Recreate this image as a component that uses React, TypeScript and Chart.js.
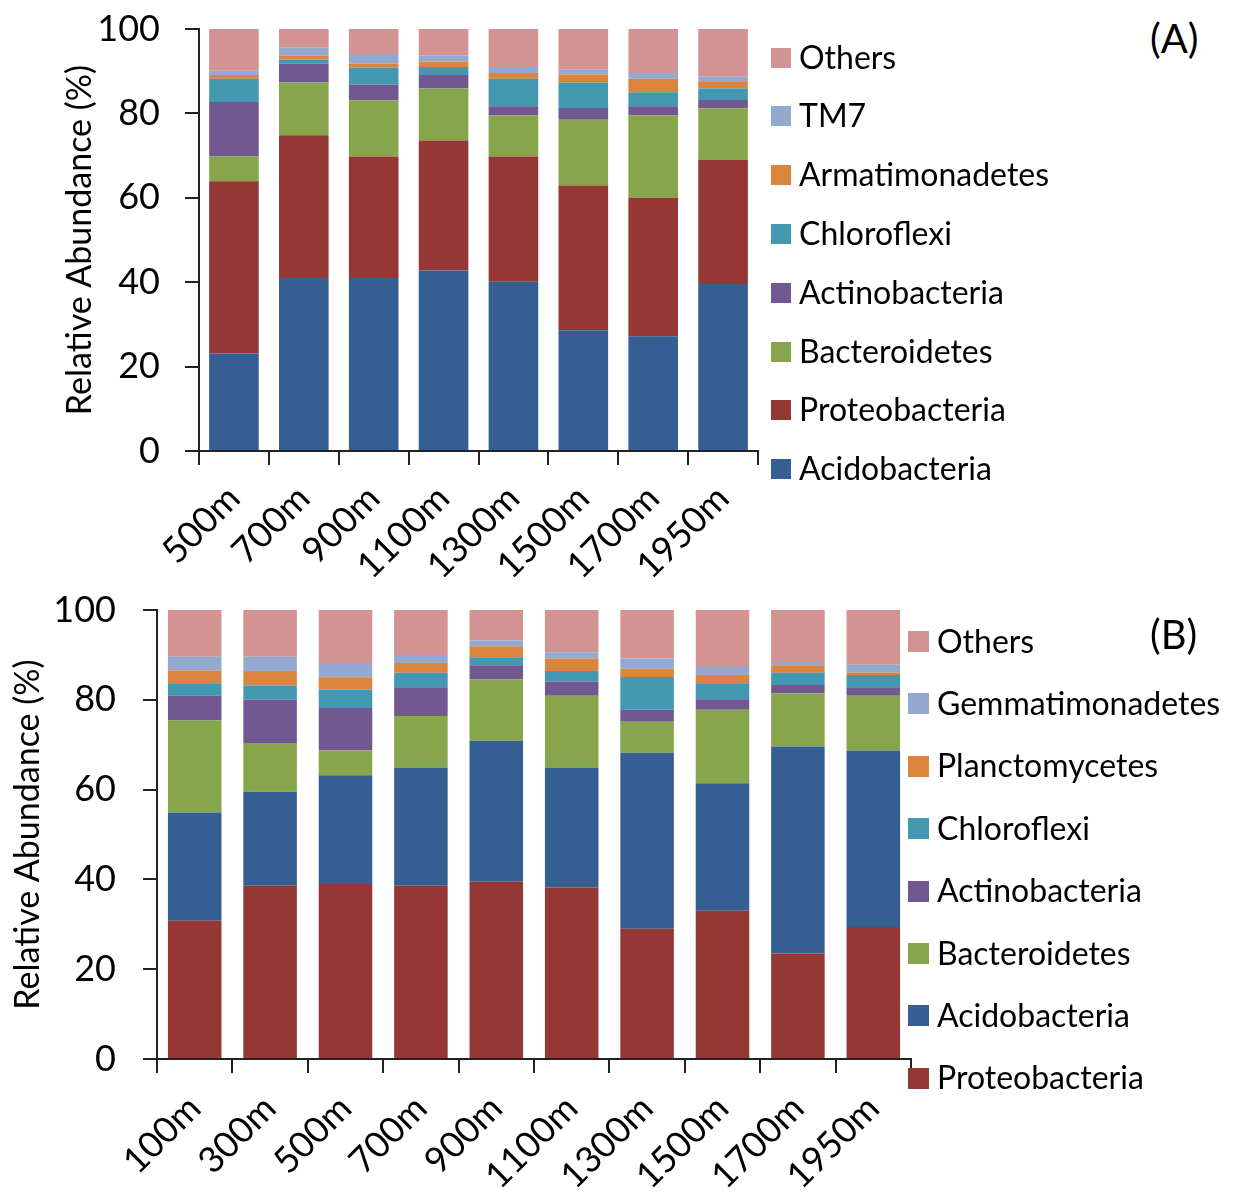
import React, { useEffect, useRef } from 'react';
import { Chart, registerables } from 'chart.js';

Chart.register(...registerables);
Chart.defaults.font.family = 'Lato, "Open Sans", sans-serif';

// ---------- Panel A data ----------
const sitesA = ['500m', '700m', '900m', '1100m', '1300m', '1500m', '1700m', '1950m'];
const acidobacteriaA = [23.1, 41.0, 41.0, 42.8, 40.1, 28.6, 27.2, 39.6];
const proteobacteriaA = [40.8, 33.8, 28.8, 30.8, 29.7, 34.3, 32.8, 29.4];
const bacteroidetesA = [5.9, 12.5, 13.3, 12.3, 9.7, 15.6, 19.5, 12.2];
const actinobacteriaA = [12.9, 4.5, 3.7, 3.2, 2.2, 2.8, 2.2, 2.0];
const chloroflexiA = [5.5, 1.0, 4.0, 1.9, 6.5, 6.0, 3.3, 2.7];
const armatimonadetesA = [0.9, 0.9, 1.0, 1.3, 1.4, 1.9, 3.2, 1.7];
const tm7A = [1.0, 1.9, 2.3, 1.4, 1.4, 1.2, 1.4, 1.1];
const othersA = [9.9, 4.4, 5.9, 6.3, 9.0, 9.6, 10.4, 11.3];

// ---------- Panel B data ----------
const sitesB = ['100m', '300m', '500m', '700m', '900m', '1100m', '1300m', '1500m', '1700m', '1950m'];
const proteobacteriaB = [30.8, 38.6, 39.0, 38.6, 39.5, 38.2, 29.0, 33.0, 23.5, 29.4];
const acidobacteriaB = [24.1, 20.9, 24.2, 26.3, 31.4, 26.7, 39.2, 28.4, 46.1, 39.3];
const bacteroidetesB = [20.5, 10.9, 5.5, 11.5, 13.7, 16.0, 6.9, 16.4, 11.8, 12.2];
const actinobacteriaB = [5.5, 9.6, 9.5, 6.4, 3.1, 3.2, 2.7, 2.3, 1.9, 1.9];
const chloroflexiB = [2.8, 3.2, 4.1, 3.2, 1.8, 2.3, 7.3, 3.6, 2.7, 2.7];
const planctomycetesB = [2.8, 3.2, 2.7, 2.2, 2.4, 2.8, 1.8, 1.8, 1.7, 0.6];
const gemmatimonadetesB = [3.1, 3.2, 3.2, 1.8, 1.3, 1.4, 2.3, 1.8, 0.7, 1.7];
const othersB = [10.4, 10.4, 11.8, 10.0, 6.8, 9.4, 10.8, 12.7, 11.6, 12.2];

const yTickValues = [0, 20, 40, 60, 80, 100];
const yTitle = 'Relative Abundance (%)';

const C = {
  blue: '#355F92',
  red: '#943735',
  green: '#87A54B',
  purple: '#725890',
  teal: '#4298B0',
  orange: '#DB843D',
  lightblue: '#93A9D0',
  pink: '#D29392',
};

// bottom -> top stacking order
const seriesA = [
  { label: 'Acidobacteria', data: acidobacteriaA, color: C.blue },
  { label: 'Proteobacteria', data: proteobacteriaA, color: C.red },
  { label: 'Bacteroidetes', data: bacteroidetesA, color: C.green },
  { label: 'Actinobacteria', data: actinobacteriaA, color: C.purple },
  { label: 'Chloroflexi', data: chloroflexiA, color: C.teal },
  { label: 'Armatimonadetes', data: armatimonadetesA, color: C.orange },
  { label: 'TM7', data: tm7A, color: C.lightblue },
  { label: 'Others', data: othersA, color: C.pink },
];

const seriesB = [
  { label: 'Proteobacteria', data: proteobacteriaB, color: C.red },
  { label: 'Acidobacteria', data: acidobacteriaB, color: C.blue },
  { label: 'Bacteroidetes', data: bacteroidetesB, color: C.green },
  { label: 'Actinobacteria', data: actinobacteriaB, color: C.purple },
  { label: 'Chloroflexi', data: chloroflexiB, color: C.teal },
  { label: 'Planctomycetes', data: planctomycetesB, color: C.orange },
  { label: 'Gemmatimonadetes', data: gemmatimonadetesB, color: C.lightblue },
  { label: 'Others', data: othersB, color: C.pink },
];

type Cfg = {
  padTop: number;
  padRight: number;
  yWidth: number;
  xHeight: number;
  titlePad: number;
  yTickPad: number;
  xTickPad: number;
};

function buildConfig(labels: string[], series: typeof seriesA, cfg: Cfg): any {
  return {
    type: 'bar',
    data: {
      labels,
      datasets: series.map((s) => ({
        label: s.label,
        data: s.data,
        backgroundColor: s.color,
        borderWidth: 0,
        barPercentage: 0.71,
        categoryPercentage: 1.0,
      })),
    },
    options: {
      responsive: false,
      maintainAspectRatio: false,
      animation: false,
      layout: { padding: { top: cfg.padTop, right: cfg.padRight, left: 0, bottom: 0 } },
      plugins: { legend: { display: false }, tooltip: { enabled: false } },
      scales: {
        x: {
          stacked: true,
          grid: {
            display: true,
            drawOnChartArea: false,
            drawTicks: true,
            tickLength: 14,
            color: '#222',
            lineWidth: 2,
            offset: true,
          },
          border: { display: true, color: '#222', width: 2 },
          ticks: {
            color: '#000',
            font: { size: 36 },
            minRotation: 45,
            maxRotation: 45,
            autoSkip: false,
            padding: cfg.xTickPad,
          },
          afterFit: (s: any) => {
            s.height = cfg.xHeight;
            s.paddingLeft = 0;
            s.paddingRight = 0;
          },
        },
        y: {
          stacked: true,
          min: 0,
          max: 100,
          afterBuildTicks: (s: any) => {
            s.ticks = yTickValues.map((v) => ({ value: v }));
          },
          grid: {
            display: true,
            drawOnChartArea: false,
            drawTicks: true,
            tickLength: 14,
            color: '#222',
            lineWidth: 2,
          },
          border: { display: true, color: '#222', width: 2 },
          ticks: {
            color: '#000',
            font: { size: 36 },
            padding: cfg.yTickPad,
          },
          title: {
            display: true,
            text: yTitle,
            color: '#000',
            font: { size: 34 },
            padding: { top: cfg.titlePad, bottom: 0 },
          },
          afterFit: (s: any) => {
            s.width = cfg.yWidth;
            s.paddingTop = 0;
            s.paddingBottom = 0;
          },
        },
      },
    },
  };
}

function BarCanvas(props: {
  labels: string[];
  series: typeof seriesA;
  cfg: Cfg;
  width: number;
  height: number;
  left: number;
  top: number;
}) {
  const ref = useRef<HTMLCanvasElement | null>(null);
  useEffect(() => {
    if (!ref.current) return;
    const chart = new Chart(ref.current, buildConfig(props.labels, props.series, props.cfg));
    return () => chart.destroy();
  }, []);
  return (
    <canvas
      ref={ref}
      width={props.width}
      height={props.height}
      style={{
        position: 'absolute',
        left: props.left,
        top: props.top,
        width: props.width,
        height: props.height,
        display: 'block',
      }}
    />
  );
}

function Legend(props: {
  series: typeof seriesA;
  x: number;
  yTop: number;
  step: number;
  box: number;
  textX: number;
}) {
  const items = [...props.series].reverse();
  return (
    <>
      {items.map((s, i) => {
        const yc = props.yTop + i * props.step;
        return (
          <div key={s.label}>
            <div
              style={{
                position: 'absolute',
                left: props.x,
                top: yc - props.box / 2,
                width: props.box,
                height: props.box,
                background: s.color,
              }}
            />
            <div
              style={{
                position: 'absolute',
                left: props.textX,
                top: yc - 21,
                height: 40,
                lineHeight: '40px',
                fontFamily: 'Lato, sans-serif',
                fontSize: 32,
                color: '#000',
                whiteSpace: 'nowrap',
              }}
            >
              {s.label}
            </div>
          </div>
        );
      })}
    </>
  );
}

export default function App() {
  return (
    <div
      style={{
        position: 'absolute',
        left: 0,
        top: 0,
        width: 1249,
        height: 1201,
        background: '#fff',
        overflow: 'hidden',
      }}
    >
      <BarCanvas
        labels={sitesA}
        series={seriesA}
        width={780}
        height={585}
        left={0}
        top={0}
        cfg={{ padTop: 29, padRight: 22, yWidth: 199, xHeight: 134, titlePad: 60, yTickPad: 25, xTickPad: 12 }}
      />
      <BarCanvas
        labels={sitesB}
        series={seriesB}
        width={935}
        height={616}
        left={0}
        top={585}
        cfg={{ padTop: 25, padRight: 24, yWidth: 157, xHeight: 142, titlePad: 8, yTickPad: 27, xTickPad: 14 }}
      />
      <Legend series={seriesA} x={771} yTop={57.5} step={58.8} box={20} textX={799} />
      <Legend series={seriesB} x={908} yTop={641.5} step={62.4} box={21} textX={937} />
      <div
        style={{
          position: 'absolute',
          left: 1150,
          top: 14,
          fontFamily: 'Lato, sans-serif',
          fontSize: 40,
          lineHeight: '48px',
          color: '#000',
        }}
      >
        (A)
      </div>
      <div
        style={{
          position: 'absolute',
          left: 1150,
          top: 610,
          fontFamily: 'Lato, sans-serif',
          fontSize: 40,
          lineHeight: '48px',
          color: '#000',
        }}
      >
        (B)
      </div>
    </div>
  );
}
